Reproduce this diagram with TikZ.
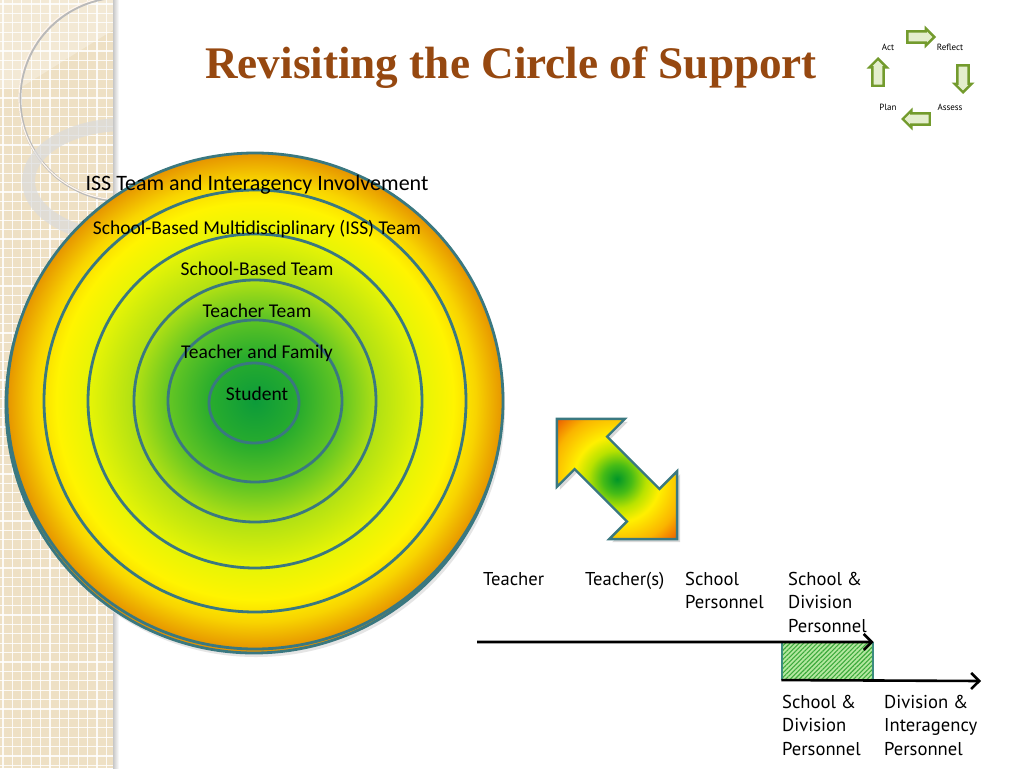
\documentclass[tikz,border=0pt]{standalone}
\usepackage{fontspec}
\setmainfont{Liberation Serif}
\newfontfamily\calfont{Carlito}
\newfontfamily\gillfont{PT Sans}
\usetikzlibrary{shapes.arrows,arrows.meta,patterns.meta}
\definecolor{titlec}{RGB}{150,72,16}
\definecolor{ringc}{RGB}{58,120,128}
\definecolor{stripc}{RGB}{238,224,196}
\definecolor{cycgreen}{RGB}{115,155,45}
\definecolor{cycfill}{RGB}{228,238,205}
\definecolor{hatchgreen}{RGB}{60,170,60}
\definecolor{hatchlight}{RGB}{180,232,160}
\definecolor{hatchborder}{RGB}{60,140,128}
\definecolor{gA}{RGB}{12,155,58}
\definecolor{gB}{RGB}{40,172,45}
\definecolor{gC}{RGB}{100,198,35}
\definecolor{gD}{RGB}{175,224,20}
\definecolor{gE}{RGB}{230,244,6}
\definecolor{gF}{RGB}{255,244,0}
\definecolor{gG}{RGB}{248,212,0}
\definecolor{gH}{RGB}{230,148,0}
\definecolor{aA}{RGB}{0,150,40}
\definecolor{aB}{RGB}{70,188,22}
\definecolor{aC}{RGB}{185,226,0}
\definecolor{aD}{RGB}{255,240,0}
\definecolor{aE}{RGB}{250,180,0}
\definecolor{aF}{RGB}{235,90,0}
\pgfdeclareradialshading{circshade}{\pgfpoint{0bp}{0bp}}{color(0bp)=(gA); color(4.5bp)=(gB); color(8.75bp)=(gC); color(12.15bp)=(gD); color(16.75bp)=(gE); color(20bp)=(gF); color(22.25bp)=(gG); color(25bp)=(gH); color(50bp)=(gH)}
\pgfdeclareradialshading{arrshade}{\pgfpoint{0bp}{0bp}}{color(0bp)=(aA); color(6bp)=(aB); color(12bp)=(aC); color(18bp)=(aD); color(27.5bp)=(aE); color(35.5bp)=(aF); color(50bp)=(aF)}
\begin{document}
\begin{tikzpicture}[x=1pt,y=-1pt,
  ring/.style={draw=ringc, line width=2.8pt},
  clabel/.style={font=\calfont\fontsize{19.5}{22}\selectfont, anchor=base, inner sep=0},
  tlabel/.style={font=\gillfont\fontsize{18.6}{23.7}\selectfont, anchor=base west, inner sep=0, align=left},
  cyc/.style={font=\gillfont\fontsize{9}{10}\selectfont, inner sep=0},
  cycarrow/.style={single arrow, draw=cycgreen, line width=2.4pt, fill=cycfill, minimum height=27pt, minimum width=15pt, single arrow head extend=3pt, inner sep=4.4pt},
  tline/.style={line width=2.6pt, -{Straight Barb[length=8pt,width=16pt]}},
  hatchbox/.style={draw=hatchborder, line width=1.3pt, preaction={fill=hatchlight}, pattern={Lines[angle=45,distance=3.2pt,line width=1.1pt]}, pattern color=hatchgreen, minimum width=91pt, minimum height=37pt, inner sep=0}
]
\useasboundingbox (0,0) rectangle (1024,768);
\fill[white] (0,0) rectangle (1024,768);
% left strip
\fill[stripc] (0,0) rectangle (113,768);
\begin{scope}
\clip (0,0) rectangle (113,768);
\foreach \i in {0,...,12} \draw[white, line width=1.2pt, opacity=.85] (\i*9.4+3,0) -- (\i*9.4+3,768);
\foreach \j in {0,...,82} \draw[white, line width=1.2pt, opacity=.85] (0,\j*9.4+4) -- (113,\j*9.4+4);
\fill[white, opacity=.3] (0,0) -- (113,0) -- (113,30) -- (20,88) -- (0,88) -- cycle;
\draw[gray!55, line width=2.6pt] (123,99) ellipse[x radius=103, y radius=102];
\draw[white!92!orange, line width=1.2pt] (122,98) ellipse[x radius=103, y radius=102];
\draw[black!14, line width=13pt, opacity=.7] (125,181) ellipse[x radius=96.5, y radius=56.5];
\end{scope}
\shade[left color=black!22, right color=white] (113,0) rectangle (119,768);
% circle of support
\fill[black!10] (256,408) circle[radius=249];
\draw[ring, fill=gH] (254,405) circle[radius=248];
\shade[shading=circshade] (255,401) circle[radius=248];
\draw[ring] (255,401) circle[radius=248];
\draw[ring] (255,401) circle[radius=211];
\draw[ring] (255,401) circle[radius=167];
\draw[ring] (255,401) circle[radius=121];
\draw[ring] (255,401) ellipse[x radius=87, y radius=81];
\draw[ring] (254,403) ellipse[x radius=45, y radius=40];
\node[clabel, font=\calfont\fontsize{22}{24}\selectfont] (l1) at (257,190) {ISS Team and Interagency Involvement};
\node[clabel] (l2) at (257,234) {School-Based Multidisciplinary (ISS) Team};
\node[clabel] (l3) at (257,275) {School-Based Team};
\node[clabel] (l4) at (257,317) {Teacher Team};
\node[clabel] (l5) at (257,358) {Teacher and Family};
\node[clabel] (l6) at (257,400) {Student};
% title
\node[anchor=base west, inner sep=0, text=titlec, font=\bfseries\fontsize{45.2}{50}\selectfont] (title) at (205,78) {Revisiting the Circle of Support};
% cycle icon
\node[cyc] (act) at (888,47) {Act};
\node[cyc] (reflect) at (950,47) {Reflect};
\node[cyc] (plan) at (888,107) {Plan};
\node[cyc] (assess) at (950,107) {Assess};
\node[cycarrow, shape border rotate=0] (ca1) at (918,37) {};
\node[cycarrow, shape border rotate=270] (ca2) at (963,76) {};
\node[cycarrow, shape border rotate=180] (ca3) at (919,119) {};
\node[cycarrow, shape border rotate=90] (ca4) at (878,75) {};
% double arrow
\fill[black!15] (559.9,421.9) -- (627.8,421.9) -- (610.1,439.6) -- (662.4,491.9) -- (680.1,474.2) -- (680.1,542.1) -- (612.2,542.1) -- (629.9,524.4) -- (577.6,472.1) -- (559.9,489.8) -- cycle;
\shade[shading=arrshade] (556.9,418.9) -- (624.8,418.9) -- (607.1,436.6) -- (659.4,488.9) -- (677.1,471.2) -- (677.1,539.1) -- (609.2,539.1) -- (626.9,521.4) -- (574.6,469.1) -- (556.9,486.8) -- cycle;
\draw[draw=ringc, line width=2.4pt, line join=miter] (556.9,418.9) -- (624.8,418.9) -- (607.1,436.6) -- (659.4,488.9) -- (677.1,471.2) -- (677.1,539.1) -- (609.2,539.1) -- (626.9,521.4) -- (574.6,469.1) -- (556.9,486.8) -- cycle;
% timeline
\node[hatchbox] (hb) at (827.5,661) {};
\coordinate (a1s) at (477,642);
\coordinate (a2e) at (981,681);
\draw[tline] (a1s) -- (hb.north east);
\draw[tline] (hb.south west) -- (a2e);
\node[tlabel] (t1) at (483,585) {Teacher};
\node[tlabel] (t2) at (585,585) {Teacher(s)};
\node[tlabel] (t3) at (685,608.7) {School\\Personnel};
\node[tlabel] (t4) at (788,632.4) {School \&\\Division\\Personnel};
\node[tlabel] (b1) at (782,755.4) {School \&\\Division\\Personnel};
\node[tlabel] (b2) at (884,755.4) {Division \&\\Interagency\\Personnel};
\end{tikzpicture}
\end{document}
